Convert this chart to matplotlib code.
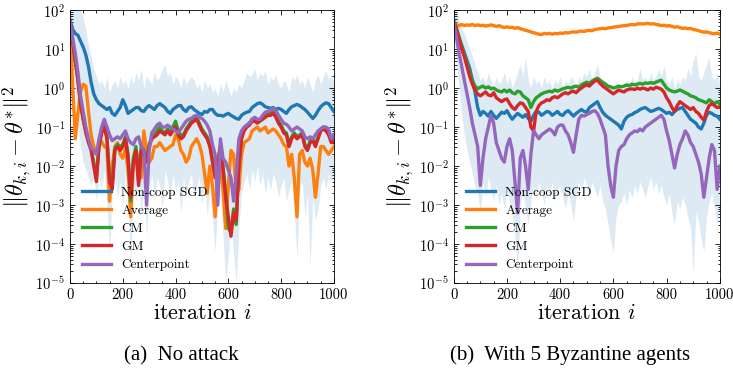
import numpy as np
import matplotlib
matplotlib.use("Agg")
import matplotlib.pyplot as plt
from matplotlib.ticker import LogLocator, FuncFormatter, AutoMinorLocator, NullFormatter

plt.rcParams['font.family'] = 'serif'
plt.rcParams['font.serif'] = ['cmr10', 'DejaVu Serif']
plt.rcParams['mathtext.fontset'] = 'cm'
plt.rcParams['axes.unicode_minus'] = False

iters = np.arange(0, 1001, 10)

# ---- (a) no attack ----
a_sgd = [1.75, 1.5, 1.4, 1.35, 1.2, 1.05, 0.85, 0.55, 0.15, -0.15, -0.3, -0.4, -0.45, -0.5, -0.55, -0.5, -0.65, -0.7, -0.6, -0.5,
         -0.3, -0.45, -0.65, -0.6, -0.55, -0.5, -0.5, -0.58, -0.6, -0.5, -0.45, -0.5, -0.55, -0.45, -0.4, -0.45, -0.5, -0.6, -0.65, -0.55,
         -0.5, -0.45, -0.45, -0.55, -0.6, -0.5, -0.48, -0.55, -0.6, -0.65, -0.68, -0.6, -0.62, -0.55, -0.55, -0.65, -0.7, -0.7, -0.72, -0.68,
         -0.65, -0.7, -0.74, -0.78, -0.8, -0.7, -0.65, -0.62, -0.6, -0.5, -0.45, -0.4, -0.38, -0.42, -0.48, -0.5, -0.52, -0.5, -0.55, -0.52,
         -0.55, -0.6, -0.65, -0.55, -0.48, -0.45, -0.42, -0.45, -0.5, -0.55, -0.62, -0.7, -0.78, -0.7, -0.58, -0.48, -0.42, -0.38, -0.4, -0.5,
         -0.6]
a_avg = [1.6, 0.1, -1.3, -0.65, -0.1, 0.1, 0.05, -0.6, -1.2, -1.5, -1.6, -1.5, -1.37, -1.5, -1.55, -2.9, -2.0, -1.5, -1.4, -1.7,
         -1.8, -1.55, -2.1, -3.3, -2.0, -1.8, -1.7, -2.3, -1.1, -1.6, -1.9, -1.8, -1.5, -1.5, -1.4, -1.5, -1.6, -1.55, -1.5, -1.45,
         -1.2, -1.3, -1.6, -1.7, -1.9, -1.8, -1.5, -1.4, -1.3, -1.45, -1.7, -2.2, -2.7, -2.0, -2.5, -3.3, -2.2, -2.1, -2.6, -3.6,
         -2.5, -1.6, -1.7, -2.7, -2.6, -1.7, -1.4, -1.35, -1.3, -1.1, -1.05, -1.0, -1.1, -1.05, -1.0, -1.15, -1.1, -1.05, -1.1, -1.2,
         -1.3, -1.45, -1.5, -2.0, -1.7, -2.3, -3.3, -1.7, -1.6, -1.9, -2.0, -1.8, -2.1, -2.8, -2.2, -1.5, -1.5, -1.6, -1.7, -1.6,
         -1.5]
a_cm = [1.7, 1.2, 0.7, 0.2, -0.4, -0.8, -1.1, -1.35, -1.55, -1.9, -2.3, -1.45, -1.1, -0.95, -1.25, -2.3, -2.5, -1.55, -1.45, -1.5,
        -1.45, -1.25, -1.7, -2.9, -1.8, -1.5, -2.4, -1.5, -1.6, -1.8, -1.45, -1.25, -1.2, -1.1, -1.0, -1.1, -1.15, -1.05, -1.1, -1.0,
        -0.85, -1.1, -1.2, -1.2, -1.05, -0.95, -0.85, -0.8, -0.75, -0.9, -1.05, -1.15, -1.25, -1.45, -1.85, -2.2, -1.9, -1.45, -2.0, -2.7,
        -3.6, -3.7, -3.1, -3.5, -1.9, -1.25, -1.05, -0.95, -0.9, -0.8, -0.8, -0.85, -0.8, -0.75, -0.7, -0.65, -0.65, -0.6, -0.7, -0.85,
        -0.95, -1.1, -1.15, -1.45, -1.25, -1.15, -1.25, -1.2, -1.15, -1.45, -1.55, -1.35, -1.3, -1.45, -1.25, -1.05, -1.0, -1.05, -1.15, -1.35,
        -1.3]
a_gm = [1.7, 1.2, 0.7, 0.2, -0.4, -0.8, -1.15, -1.4, -1.6, -2.0, -2.4, -1.5, -1.15, -1.0, -1.3, -2.4, -2.6, -1.6, -1.5, -1.6,
        -1.5, -1.3, -1.8, -2.8, -1.9, -1.6, -2.5, -1.6, -1.7, -1.9, -1.5, -1.3, -1.25, -1.2, -1.1, -1.15, -1.2, -1.1, -1.2, -1.1,
        -1.0, -1.2, -1.3, -1.25, -1.1, -1.0, -0.9, -0.85, -0.8, -0.95, -1.1, -1.2, -1.3, -1.5, -1.9, -2.3, -2.0, -1.5, -2.1, -2.8,
        -3.3, -3.8, -3.2, -3.4, -2.0, -1.3, -1.1, -1.0, -0.95, -0.85, -0.85, -0.9, -0.85, -0.8, -0.75, -0.7, -0.7, -0.65, -0.75, -0.9,
        -1.0, -1.15, -1.2, -1.5, -1.3, -1.2, -1.3, -1.25, -1.2, -1.5, -1.6, -1.4, -1.35, -1.5, -1.3, -1.1, -1.05, -1.1, -1.2, -1.4,
        -1.35]
a_cp = [1.7, 1.3, 0.9, 0.4, -0.2, -0.6, -1.0, -1.3, -1.55, -1.6, -1.7, -1.3, -1.0, -0.8, -1.0, -1.2, -1.35, -1.3, -1.25, -1.3,
        -1.2, -1.1, -1.3, -1.4, -1.45, -1.3, -1.25, -1.5, -1.6, -3.0, -1.6, -1.15, -1.05, -0.95, -0.9, -1.0, -1.0, -0.95, -1.0, -1.05,
        -1.1, -1.15, -1.05, -0.95, -0.85, -0.8, -0.78, -0.72, -0.7, -0.75, -0.78, -0.85, -0.95, -1.1, -1.45, -1.7, -3.0, -1.3, -1.8, -1.9,
        -2.1, -2.3, -2.9, -2.2, -1.3, -1.1, -1.0, -0.95, -0.9, -0.8, -0.75, -0.8, -0.8, -0.7, -0.62, -0.6, -0.55, -0.52, -0.58, -0.7,
        -0.8, -0.9, -0.93, -1.0, -1.1, -1.05, -1.0, -1.05, -1.1, -1.25, -1.3, -1.25, -1.3, -1.2, -1.1, -1.05, -1.0, -1.0, -1.05, -1.3,
        -1.2]
a_band_hi = [2.3, 2.3, 2.2, 2.1, 2.0, 1.8, 1.5, 1.1, 0.8, 0.5, 0.3, 0.1, 0.2, 0.0, 0.3, -0.1, 0.1, 0.2, 0.0, 0.3,
             0.1, 0.2, 0.0, 0.3, 0.1, 0.4, 0.2, 0.5, 0.0, 0.3, 0.2, 0.1, 0.4, 0.2, 0.3, 0.5, 0.6, 0.3, 0.4, 0.1,
             0.3, 0.2, 0.0, 0.3, 0.1, 0.2, 0.3, 0.2, 0.0, 0.1, -0.1, 0.2, 0.0, 0.1, -0.1, 0.0, -0.2, 0.1, -0.1, 0.2,
             0.0, -0.2, 0.0, -0.1, 0.1, 0.0, 0.2, 0.4, 0.3, 0.35, 0.5, 0.2, 0.4, 0.3, 0.45, 0.1, 0.3, 0.2, 0.35, 0.1,
             0.0, 0.2, 0.1, -0.1, 0.3, 0.2, 0.35, 0.1, 0.2, 0.0, 0.3, 0.1, -0.1, 0.2, 0.35, 0.1, 0.3, 0.45, 0.2, 0.35,
             0.1]
a_band_lo = [1.2, 0.6, -0.2, -1.0, -1.5, -1.9, -2.1, -2.3, -2.5, -2.2, -2.9, -2.3, -2.6, -2.1, -3.0, -4.3, -2.6, -2.3, -2.8, -2.4,
             -3.0, -2.2, -2.7, -4.6, -2.5, -2.9, -2.3, -3.3, -2.4, -3.8, -2.6, -2.2, -2.8, -2.3, -2.5, -3.1, -2.1, -2.4, -2.9, -2.2,
             -2.6, -2.4, -3.2, -2.3, -2.7, -2.4, -2.2, -2.8, -2.5, -2.3, -3.0, -2.4, -3.3, -2.6, -3.4, -4.2, -3.0, -2.8, -3.8, -5.0,
             -4.3, -3.3, -4.3, -5.0, -3.6, -2.7, -2.4, -2.2, -2.6, -2.1, -2.4, -2.0, -2.5, -2.2, -2.7, -2.3, -2.6, -2.2, -2.4, -2.8,
             -2.5, -2.3, -2.9, -2.6, -2.4, -3.1, -4.4, -2.6, -2.4, -3.3, -2.7, -4.6, -2.8, -3.4, -3.1, -2.5, -2.3, -2.6, -2.2, -2.4,
             -2.1]

# ---- (b) 5 Byzantine agents ----
b_sgd = [1.7, 1.5, 1.3, 1.1, 0.9, 0.7, 0.5, 0.2, -0.1, -0.5, -0.7, -0.6, -0.65, -0.72, -0.6, -0.7, -0.78, -0.7, -0.62, -0.65,
         -0.58, -0.7, -0.8, -0.72, -0.65, -0.7, -0.75, -0.68, -0.78, -0.85, -0.7, -0.6, -0.62, -0.7, -0.65, -0.6, -0.62, -0.7, -0.65, -0.6,
         -0.68, -0.7, -0.62, -0.58, -0.65, -0.72, -0.65, -0.6, -0.55, -0.6, -0.62, -0.5, -0.45, -0.4, -0.35, -0.5, -0.62, -0.7, -0.75, -0.8,
         -0.85, -0.9, -0.95, -1.05, -0.85, -0.75, -0.7, -0.68, -0.63, -0.6, -0.55, -0.52, -0.5, -0.55, -0.6, -0.58, -0.55, -0.52, -0.55, -0.6,
         -0.65, -0.62, -0.68, -0.6, -0.55, -0.52, -0.5, -0.6, -0.7, -0.8, -0.85, -0.9, -1.0, -1.05, -0.9, -0.7, -0.62, -0.65, -0.7, -0.72,
         -0.8]
b_avg = [1.7, 1.62, 1.6, 1.63, 1.6, 1.62, 1.61, 1.63, 1.6, 1.62, 1.6, 1.61, 1.59, 1.6, 1.62, 1.6, 1.58, 1.6, 1.57, 1.55,
         1.57, 1.55, 1.56, 1.53, 1.55, 1.52, 1.5, 1.48, 1.46, 1.44, 1.42, 1.4, 1.38, 1.37, 1.4, 1.39, 1.4, 1.38, 1.4, 1.39,
         1.41, 1.4, 1.42, 1.41, 1.43, 1.44, 1.43, 1.45, 1.46, 1.45, 1.47, 1.48, 1.47, 1.5, 1.51, 1.52, 1.53, 1.52, 1.54, 1.55,
         1.56, 1.57, 1.58, 1.59, 1.6, 1.6, 1.62, 1.63, 1.62, 1.64, 1.65, 1.64, 1.65, 1.66, 1.64, 1.65, 1.63, 1.62, 1.6, 1.61,
         1.59, 1.6, 1.58, 1.56, 1.57, 1.55, 1.53, 1.54, 1.52, 1.53, 1.5, 1.49, 1.47, 1.45, 1.43, 1.44, 1.42, 1.4, 1.39, 1.41,
         1.38]
b_cm = [1.7, 1.55, 1.3, 1.05, 0.85, 0.6, 0.4, 0.2, 0.05, -0.02, 0.02, 0.05, 0.0, 0.03, -0.02, 0.0, -0.05, -0.08, -0.1, -0.05,
        -0.1, -0.05, -0.12, -0.15, -0.08, -0.1, -0.2, -0.25, -0.3, -0.5, -0.35, -0.25, -0.2, -0.15, -0.12, -0.1, -0.08, -0.1, -0.05, -0.08,
        -0.05, -0.02, 0.0, 0.02, 0.0, 0.03, 0.05, 0.02, 0.08, 0.12, 0.15, 0.12, 0.18, 0.22, 0.25, 0.2, 0.15, 0.1, 0.05, 0.03,
        0.0, 0.02, 0.05, 0.03, 0.05, 0.08, 0.06, 0.1, 0.08, 0.1, 0.12, 0.1, 0.13, 0.12, 0.14, 0.12, 0.15, 0.18, 0.2, 0.1,
        0.0, -0.05, -0.08, -0.1, -0.08, -0.05, -0.08, -0.12, -0.15, -0.2, -0.22, -0.25, -0.3, -0.32, -0.35, -0.38, -0.3, -0.35, -0.4, -0.35,
        -0.4]
b_gm = [1.7, 1.5, 1.25, 1.0, 0.8, 0.55, 0.3, 0.1, -0.05, -0.15, -0.2, -0.15, -0.1, -0.18, -0.2, -0.12, -0.25, -0.3, -0.35, -0.3,
        -0.28, -0.4, -0.5, -0.55, -0.45, -0.38, -0.4, -0.5, -0.6, -1.0, -1.1, -0.6, -0.45, -0.38, -0.35, -0.3, -0.32, -0.25, -0.22, -0.25,
        -0.2, -0.15, -0.12, -0.15, -0.1, -0.08, -0.12, -0.05, 0.0, 0.05, 0.08, 0.05, 0.12, 0.18, 0.2, 0.12, 0.05, 0.0, -0.05, -0.1,
        -0.15, -0.1, -0.05, -0.08, -0.1, -0.05, -0.03, -0.02, -0.04, 0.0, -0.03, 0.0, -0.02, -0.05, 0.0, -0.03, 0.02, 0.0, -0.03, -0.1,
        -0.25, -0.35, -0.5, -0.6, -0.45, -0.35, -0.4, -0.45, -0.5, -0.55, -0.5, -0.6, -0.65, -0.75, -0.82, -0.6, -0.45, -0.4, -0.45, -0.5,
        -0.48]
b_cp = [1.7, 1.3, 0.9, 0.55, 0.2, -0.15, -0.5, -0.9, -1.2, -1.5, -2.5, -1.8, -1.3, -1.0, -0.7, -0.9, -1.4, -1.6, -1.8, -1.9,
        -1.5, -1.3, -1.6, -2.4, -3.2, -1.8, -1.6, -2.0, -2.6, -1.7, -1.1, -1.2, -1.3, -1.2, -1.15, -1.1, -1.05, -1.1, -1.2, -1.0,
        -0.95, -0.95, -1.1, -1.2, -1.4, -1.65, -1.2, -0.8, -0.7, -0.72, -0.68, -0.65, -0.6, -0.58, -0.65, -0.8, -1.0, -1.2, -2.0, -2.5,
        -2.8, -2.0, -1.6, -1.5, -1.45, -1.3, -1.2, -1.15, -1.1, -1.12, -1.05, -1.1, -1.0, -0.95, -0.9, -0.85, -0.8, -0.75, -0.7, -0.8,
        -1.1, -1.35, -1.7, -2.05, -1.7, -1.45, -1.3, -1.1, -1.2, -1.4, -1.5, -1.7, -1.9, -2.2, -2.8, -2.3, -1.8, -1.45, -1.6, -2.6,
        -2.0]
b_band_hi = [2.2, 2.0, 1.8, 1.5, 1.4, 1.2, 1.0, 0.8, 0.6, 0.4, 0.2, 0.3, 0.1, 0.4, 0.2, 0.0, 0.3, 0.1, 0.2, 0.4,
             0.1, 0.3, 0.0, 0.2, 0.4, 0.6, 0.3, 0.8, 0.2, 0.0, 0.3, 0.1, 0.2, 0.0, 0.3, 0.1, 0.2, 0.0, 0.2, 0.1,
             0.3, 0.0, 0.2, 0.1, 0.3, 0.2, 0.0, 0.3, 0.2, 0.4, 0.3, 0.5, 0.2, 0.4, 0.6, 0.3, 0.1, 0.2, 0.0, 0.1,
             -0.1, 0.2, 0.0, -0.1, 0.1, 0.2, 0.0, 0.3, 0.1, 0.2, 0.5, 0.2, 0.3, 0.1, 0.4, 0.2, 0.3, 0.5, 0.3, 0.6,
             0.2, 0.1, 0.3, 0.0, 0.2, 0.1, 0.3, 0.2, 0.5, 0.3, 0.7, 0.9, 0.3, 0.2, 0.4, 0.6, 0.8, 0.3, 0.2, 0.4,
             0.1]
b_band_lo = [1.3, 0.7, 0.0, -0.7, -1.2, -1.6, -1.9, -2.2, -2.5, -2.7, -3.2, -2.4, -2.8, -2.3, -2.6, -2.9, -2.5, -3.0, -2.7, -3.1,
             -2.6, -2.9, -3.3, -3.8, -4.8, -3.0, -2.7, -3.1, -3.5, -2.9, -2.5, -2.8, -2.4, -2.7, -3.0, -2.5, -2.8, -2.4, -2.9, -2.6,
             -2.5, -2.8, -3.1, -2.7, -3.0, -3.4, -2.8, -2.4, -2.6, -2.3, -2.5, -2.7, -2.4, -2.6, -2.8, -2.5, -2.9, -3.1, -3.5, -3.9,
             -4.2, -3.3, -3.0, -2.9, -2.7, -3.0, -2.6, -2.8, -2.5, -2.7, -2.4, -2.6, -2.8, -2.5, -2.3, -2.6, -2.4, -2.7, -2.5, -2.8,
             -3.0, -2.7, -3.2, -3.5, -2.9, -3.1, -2.8, -3.0, -3.3, -3.6, -4.8, -3.2, -3.4, -3.9, -4.2, -3.3, -2.9, -2.7, -3.1, -3.5,
             -3.0]

labels = ['Non-coop SGD', 'Average', 'CM', 'GM', 'Centerpoint']
colors = ['C0', 'C1', 'C2', 'C3', 'C4']
panels = [
    ([a_sgd, a_avg, a_cm, a_gm, a_cp], a_band_lo, a_band_hi, '(a)  No attack'),
    ([b_sgd, b_avg, b_cm, b_gm, b_cp], b_band_lo, b_band_hi, '(b)  With 5 Byzantine agents'),
]

fig = plt.figure(figsize=(7.33, 3.71), dpi=100)
boxes = [[0.0955, 0.237, 0.360, 0.736], [0.619, 0.237, 0.363, 0.736]]
caption_x = [181 / 733, 570 / 733]

for box, cx, (series, lo, hi, caption) in zip(boxes, caption_x, panels):
    ax = fig.add_axes(box)
    ax.fill_between(iters, 10.0 ** np.array(lo), 10.0 ** np.array(hi),
                    color='C0', alpha=0.15, linewidth=0)
    for vals, lab, col in zip(series, labels, colors):
        ax.plot(iters, 10.0 ** np.array(vals), color=col, lw=2.4, label=lab)

    ax.set_yscale('log')
    ax.set_xlim(0, 1000)
    ax.set_ylim(1e-5, 1e2)
    ax.set_xticks([0, 200, 400, 600, 800, 1000])
    ax.xaxis.set_minor_locator(AutoMinorLocator(4))
    ax.yaxis.set_major_locator(LogLocator(base=10, numticks=10))
    ax.yaxis.set_minor_locator(LogLocator(base=10, subs=np.arange(2, 10), numticks=10))
    ax.yaxis.set_minor_formatter(NullFormatter())
    ax.yaxis.set_major_formatter(FuncFormatter(lambda v, p: r'$10^{%d}$' % round(np.log10(v))))
    ax.tick_params(which='both', direction='in', top=True, right=True, labelsize=10.5, width=0.6)
    ax.tick_params(which='major', length=3.5)
    ax.tick_params(which='minor', length=1.8)
    for sp in ax.spines.values():
        sp.set_linewidth(0.6)

    ax.set_xlabel(r'iteration $i$', fontsize=16, labelpad=1)
    ax.set_ylabel(r'$\|\theta_{k,i} - \theta^{*}\|^2$', fontsize=17.5, labelpad=1)
    ax.legend(loc='lower left', frameon=False, fontsize=9.5, handlelength=2.2,
              labelspacing=0.45, handletextpad=0.8)

    fig.text(cx, 0.042, caption, ha='center', va='center',
             fontsize=15, family='Liberation Serif')

fig.savefig('out.png', dpi=100)
